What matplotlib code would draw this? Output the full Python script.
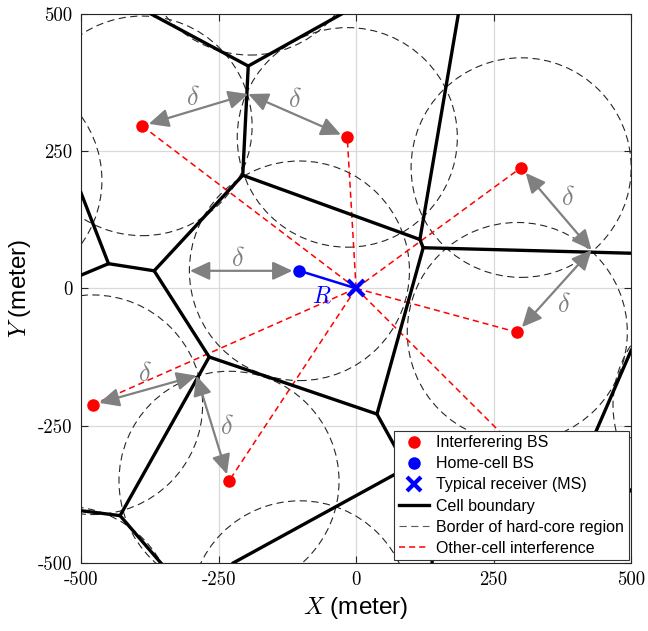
import matplotlib.pyplot as plt
from matplotlib.lines import Line2D
from matplotlib.patches import Circle

plt.rcParams['mathtext.fontset'] = 'cm'
plt.rcParams['font.family'] = ['Liberation Sans', 'DejaVu Sans']

# base stations (meter)
interf_x = [-389, -16, 300, 293, -479, -231, 470]
interf_y = [296, 275, 220, -80, -212, -351, -470]
home_x, home_y = -103, 32
ms_x, ms_y = 0, 0
# base stations outside the window, only their hard-core border shows
outer_x = [-193, -662, -529, -102, 667]
outer_y = [625, 197, -597, -587, -213]
delta = 200

# cell boundaries (Voronoi edges) as polylines
cell_edges = [
    [(-373, 500), (-196, 405), (-26, 500)],
    [(-196, 405), (-206, 206), (-367, 32), (-450, 45), (-500, 24)],
    [(-500, 174), (-450, 45)],
    [(-206, 206), (116, 89), (186, 500)],
    [(116, 89), (122, 74), (500, 64)],
    [(122, 74), (38, -229), (-267, -125), (-367, 32)],
    [(-267, -125), (-429, -414), (-500, -405)],
    [(-429, -414), (-355, -500)],
    [(-223, -500), (92, -327), (38, -229)],
    [(92, -327), (150, -400), (138, -500)],
    [(150, -400), (419, -300), (500, -113)],
    [(419, -300), (500, -369)],
]

# delta arrows: base station -> point where neighbouring borders meet
arrow_from = [(-389, 296), (-16, 275), (-103, 32), (300, 220), (293, -80), (-479, -212), (-231, -351)]
arrow_to = [(-196, 354), (-196, 354), (-302, 32), (428, 70), (428, 70), (-290, -159), (-290, -159)]
delta_lbl_x = [-296, -111, -214, 386, 377, -384, -235]
delta_lbl_y = [347, 343, 54, 164, -31, -156, -253]

ticks = [-500, -250, 0, 250, 500]
tick_labels = ['-500', '-250', '0', '250', '500']

fig = plt.figure(figsize=(6.48, 6.31), dpi=100)
ax = fig.add_axes([0.125, 0.108, 0.849, 0.870])

ax.set_xlim(-500, 500)
ax.set_ylim(-500, 500)
ax.grid(True, color='#d9d9d9', lw=0.9, zorder=0)
ax.set_axisbelow(True)

# hard-core borders
circ_style = dict(fill=False, ec='0.15', lw=0.8, ls=(0, (6.5, 4.0)), zorder=2)
for x, y in zip(interf_x + [home_x] + outer_x, interf_y + [home_y] + outer_y):
    ax.add_patch(Circle((x, y), delta, **circ_style))

# other-cell interference
for x, y in zip(interf_x, interf_y):
    ax.plot([ms_x, x], [ms_y, y], color='red', lw=1.1, ls=(0, (4, 2.6)), zorder=3)

for edge in cell_edges:
    xs, ys = zip(*edge)
    ax.plot(xs, ys, color='black', lw=2.4, solid_joinstyle='miter', zorder=4)

for (x0, y0), (x1, y1) in zip(arrow_from, arrow_to):
    ax.annotate('', xy=(x1, y1), xytext=(x0, y0),
                arrowprops=dict(arrowstyle='<|-|>,head_length=0.6,head_width=0.28',
                                color='#808080', lw=1.6, shrinkA=5, shrinkB=0,
                                mutation_scale=20),
                zorder=5)
for x, y in zip(delta_lbl_x, delta_lbl_y):
    ax.text(x, y, r'$\delta$', color='#808080', fontsize=19, ha='center', va='center', zorder=5)

ax.plot([ms_x, home_x], [ms_y, home_y], color='blue', lw=1.8, zorder=6)
ax.text(-62, -14, r'$R$', color='blue', fontsize=17, ha='center', va='center', zorder=6)

ax.plot(interf_x, interf_y, 'o', color='red', ms=8, zorder=7)
ax.plot(home_x, home_y, 'o', color='blue', ms=8, zorder=7)
ax.plot(ms_x, ms_y, 'x', color='blue', ms=11, mew=3, zorder=8)

handles = [
    Line2D([], [], ls='none', marker='o', color='red', ms=8),
    Line2D([], [], ls='none', marker='o', color='blue', ms=8),
    Line2D([], [], ls='none', marker='x', color='blue', ms=10, mew=3),
    Line2D([], [], color='black', lw=2.4),
    Line2D([], [], color='0.35', lw=0.8, ls=(0, (6.5, 4.0))),
    Line2D([], [], color='red', lw=1.1, ls=(0, (4, 2.6))),
]
labels = ['Interferering BS', 'Home-cell BS', 'Typical receiver (MS)',
          'Cell boundary', 'Border of hard-core region', 'Other-cell interference']
leg = ax.legend(handles, labels, loc='lower right', fontsize=11.5, borderaxespad=0.15,
                fancybox=False, framealpha=1, edgecolor='0.2', handlelength=1.9,
                handletextpad=0.45, labelspacing=0.38, borderpad=0.3)
leg.get_frame().set_linewidth(0.8)
leg.set_zorder(10)

ax.set_xticks(ticks)
ax.set_yticks(ticks)
ax.set_xticklabels(tick_labels, fontfamily='cmr10', fontsize=13.5)
ax.set_yticklabels(tick_labels, fontfamily='cmr10', fontsize=13.5)
ax.tick_params(direction='in', top=True, right=True, length=5, width=0.8, color='0.15', pad=6)
for s in ax.spines.values():
    s.set_color('0.15')
    s.set_linewidth(0.8)

ax.set_xlabel(r'$X$ (meter)', fontsize=17.5, labelpad=4)
ax.set_ylabel(r'$Y$ (meter)', fontsize=17.5, labelpad=4)

fig.savefig('out.png', dpi=100)
